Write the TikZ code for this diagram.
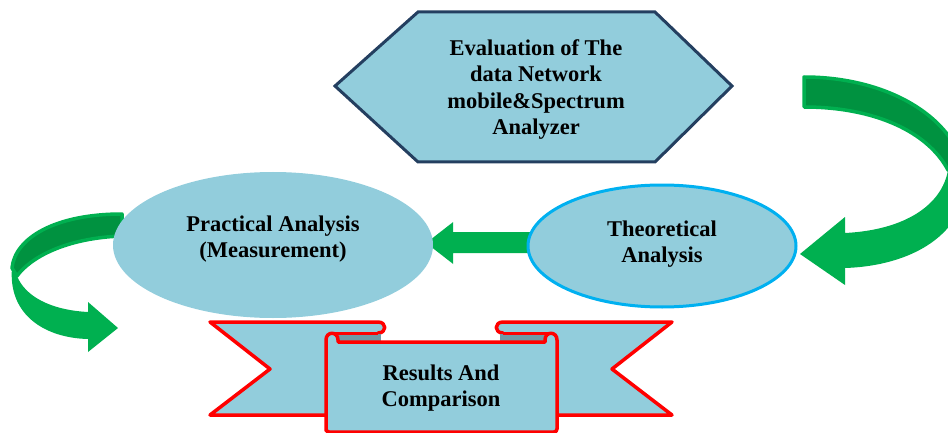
\documentclass[tikz,border=0pt]{standalone}
\usepackage{fontspec}
\setmainfont{Liberation Serif}
\usetikzlibrary{shapes.geometric,calc}
\definecolor{boxblue}{RGB}{146,205,220}
\definecolor{navyline}{RGB}{36,63,96}
\definecolor{skyline}{RGB}{0,176,240}
\definecolor{arrowgreen}{RGB}{0,176,80}
\definecolor{darkgreen}{RGB}{0,146,64}
\definecolor{folddark}{RGB}{112,154,166}
\pgfdeclarelayer{background}
\pgfsetlayers{background,main}
\begin{document}
\begin{tikzpicture}[x=1pt,y=-1pt,
  txt/.style={font=\fontsize{22.5}{26.5}\selectfont\bfseries, align=center, text=black},
  bubble/.style={ellipse, fill=boxblue, inner sep=0pt},
  ribbonpart/.style={fill=boxblue, draw=red, line width=3.5pt, line join=round},
  backband/.style={fill=darkgreen, draw=arrowgreen, line width=3.5pt, line join=round}]
\useasboundingbox (0,0) rectangle (948,433);

% evaluation hexagon
\filldraw[fill=boxblue, draw=navyline, line width=3pt, line join=miter]
  (335,86) -- (418,12) -- (655,12) -- (732,86) -- (655,162) -- (418,162) -- cycle;
\node[txt] (eval) at (536,89.5) {Evaluation of The\\data Network\\mobile\&Spectrum\\Analyzer};

% analysis ellipses
\node[bubble, minimum width=320pt, minimum height=146pt] (prac) at (273,245) {};
\node[txt] (practxt) at (273,239) {Practical Analysis\\(Measurement)};
\node[bubble, draw=skyline, line width=3pt, minimum width=268pt, minimum height=122pt] (theo) at (662,246) {};
\node[txt] (theotxt) at (662,244) {Theoretical\\Analysis};

% results ribbon: tails
\filldraw[ribbonpart] (210,322) -- (378,322) .. controls (387,322) and (387,333) .. (378,333)
  -- (378,415) -- (210,415) -- (270,369) -- cycle;
\filldraw[ribbonpart] (672,322) -- (503,322) .. controls (494,322) and (494,333) .. (503,333)
  -- (503,415) -- (672,415) -- (612,369) -- cycle;
% folds under the rolls
\fill[folddark] (332,334) rectangle (381,342);
\fill[folddark] (500,334) rectangle (549,342);
\draw[red, line width=3pt] (332,333) -- (378,333);
\draw[red, line width=3pt] (503,333) -- (549,333);
% central panel
\filldraw[ribbonpart] (326,428) -- (326,340) .. controls (326,331) and (338,331) .. (338,340)
  -- (338,342) -- (545,342) -- (545,340) .. controls (545,331) and (557,331) .. (557,340)
  -- (557,428) [rounded corners=3pt] -- (557,432) -- (326,432) -- cycle;
\node[txt] (results) at (441,388) {Results And\\Comparison};

\begin{pgfonlayer}{background}
  % straight arrow from theoretical to practical analysis
  \begin{scope}[shift={($(prac.east)+(-7,-2)$)}]
    \fill[arrowgreen] (0,0) -- (27,-21) -- (27,-11) -- (115,-11) -- (115,10) -- (27,10) -- (27,21) -- cycle;
  \end{scope}

  % right curved arrow: lower (front) band with head
  \fill[arrowgreen] (966,175) .. controls (968,235) and (910,266) .. (845,268)
    -- (845,285) -- (800,254) -- (845,217) -- (845,233)
    .. controls (905,230) and (942,205) .. (948,170) -- cycle;
  % right curved arrow: upper (back) band
  \filldraw[backband] (804,77) .. controls (885,77) and (955,115) .. (966,175)
    -- (948,170) .. controls (928,132) and (875,107) .. (804,107) -- cycle;

  % left curved arrow: lower (front) band with head
  \fill[arrowgreen] (12,268) .. controls (8,315) and (45,338) .. (88,339)
    -- (88,352) -- (118,328) -- (88,302) -- (88,312)
    .. controls (50,310) and (25,296) .. (17,276) -- cycle;
  % left curved arrow: upper (back) band
  \filldraw[backband] (122,214) .. controls (55,214) and (15,238) .. (12,268)
    -- (17,276) .. controls (30,258) and (65,238) .. (122,236) -- cycle;
\end{pgfonlayer}
\end{tikzpicture}
\end{document}
